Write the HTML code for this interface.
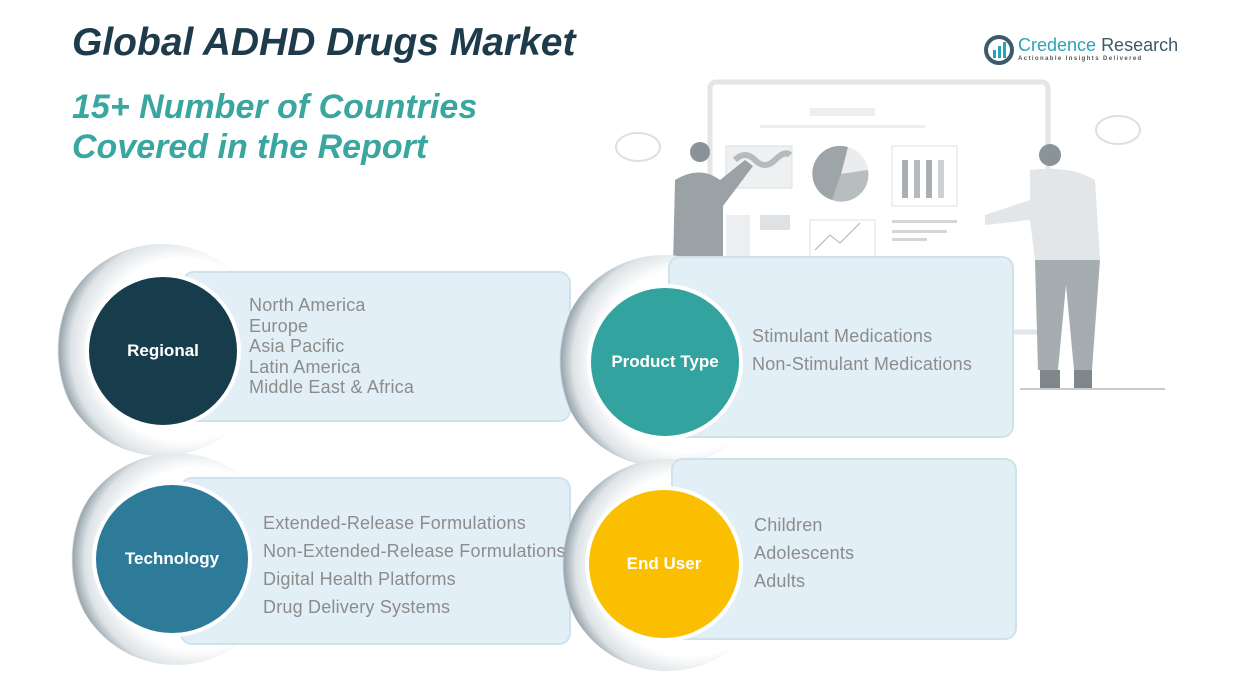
<!DOCTYPE html>
<html><head><meta charset="utf-8"><style>
body{margin:0;width:1242px;height:682px;background:#fff;position:relative;overflow:hidden;font-family:"Liberation Sans",sans-serif}
.a{position:absolute}
.t1{left:72px;top:21px;font-size:39px;font-weight:bold;font-style:italic;color:#1d3b4a}
.t2{left:72px;top:87px;font-size:34px;font-weight:bold;font-style:italic;color:#3aa6a0;line-height:40px}
.box{position:absolute;background:#e2eff6;border:2px solid #cfe2ec;border-radius:12px;box-sizing:border-box}
.halo{position:absolute;border-radius:50%;background:radial-gradient(circle at 60% 50%,#fff 55%,#dde3e6 68%,#9aa7ae 75%,rgba(255,255,255,0) 76%)}
.c{position:absolute;border-radius:50%;border:4px solid #fff;box-sizing:border-box;color:#fff;font-weight:bold;font-size:17px;display:flex;align-items:center;justify-content:center}
.tx{position:absolute;color:#8c8c8c;font-size:18px;letter-spacing:0.2px}
</style></head><body>
<div class="a t1">Global ADHD Drugs Market</div>
<div class="a t2">15+ Number of Countries<br>Covered in the Report</div>
<svg class="a" style="left:983px;top:34px" width="32" height="32"><circle cx="16" cy="16" r="13" fill="none" stroke="#3b5a6a" stroke-width="4"/><rect x="10" y="16" width="3" height="8" fill="#2aa3b8"/><rect x="15" y="12" width="3" height="12" fill="#2aa3b8"/><rect x="20" y="8" width="3" height="16" fill="#2aa3b8"/></svg>
<div class="a" style="left:1018px;top:35px;font-size:18px;color:#2aa3b8">Credence <span style="color:#3b5a6a">Research</span></div>
<div class="a" style="left:1018px;top:56px;font-size:6px;letter-spacing:1.4px;color:#555;font-weight:bold">Actionable Insights Delivered</div>
<svg class="a" style="left:600px;top:70px" width="600" height="330">
<rect x="110" y="12" width="338" height="250" rx="6" fill="#fff" stroke="#e3e6e8" stroke-width="5"/>
<rect x="210" y="38" width="65" height="8" fill="#eceeef"/><rect x="160" y="55" width="165" height="3" fill="#eceeef"/>
<rect x="126" y="76" width="66" height="42" fill="#eef0f1" stroke="#dde0e2"/>
<path d="M135 90 q10 -10 20 0 t20 0 t15 -5" stroke="#b5babd" stroke-width="6" fill="none"/>
<circle cx="241" cy="104" r="27" fill="#cdd1d3"/><path d="M241 104 L248 77 A27 27 0 0 1 268 100 Z" fill="#eaeced"/><path d="M241 104 L268 100 A27 27 0 0 1 232 130 Z" fill="#b8bdc0"/><path d="M241 104 L232 130 A27 27 0 0 1 248 77Z" fill="#9ea5a9"/>
<rect x="292" y="76" width="65" height="60" fill="#fff" stroke="#dde0e2"/>
<rect x="302" y="90" width="6" height="38" fill="#a9afb2"/><rect x="314" y="90" width="6" height="38" fill="#b5babd"/><rect x="326" y="90" width="6" height="38" fill="#a9afb2"/><rect x="338" y="90" width="6" height="38" fill="#cdd1d3"/>
<rect x="126" y="145" width="24" height="50" fill="#eceeef"/><rect x="160" y="145" width="30" height="15" fill="#dfe2e4"/>
<rect x="210" y="150" width="65" height="40" fill="#fff" stroke="#dde0e2"/><path d="M215 180 l15 -15 l10 8 l20 -20" stroke="#aab0b3" fill="none"/>
<rect x="292" y="150" width="65" height="3" fill="#d3d7d9"/><rect x="292" y="160" width="55" height="3" fill="#d3d7d9"/><rect x="292" y="168" width="35" height="3" fill="#d3d7d9"/>
<ellipse cx="38" cy="77" rx="22" ry="14" fill="#fff" stroke="#dde0e2" stroke-width="2"/><ellipse cx="518" cy="60" rx="22" ry="14" fill="#fff" stroke="#dde0e2" stroke-width="2"/>
<circle cx="100" cy="82" r="10" fill="#8a9398"/><path d="M75 110 q25 -15 45 0 l25 -20 l8 6 l-30 40 l0 60 l-50 0 z" fill="#9aa2a6"/>
<circle cx="450" cy="85" r="11" fill="#8a9398"/><path d="M430 100 q40 -5 65 10 l5 80 l-65 0 l-5 -40 l-45 5 l0 -10 l45 -15 z" fill="#e3e6e8"/>
<path d="M435 190 l65 0 l-8 110 l-18 0 l-8 -85 l-8 85 l-20 0 z" fill="#a6adb1"/>
<rect x="440" y="300" width="20" height="18" fill="#7f878b"/><rect x="474" y="300" width="18" height="18" fill="#7f878b"/>
<rect x="420" y="318" width="145" height="2" fill="#c7cbcd"/>
</svg>
<div class="halo" style="left:56px;top:244px;width:212px;height:212px"></div>
<div class="box" style="left:182px;top:271px;width:389px;height:151px"></div>
<div class="c" style="left:85px;top:273px;width:156px;height:156px;background:#173d4d">Regional</div>
<div class="tx" style="left:249px;top:295px;line-height:20.5px">North America<br>Europe<br>Asia Pacific<br>Latin America<br>Middle East &amp; Africa</div>
<div class="halo" style="left:558px;top:255px;width:212px;height:212px"></div>
<div class="box" style="left:668px;top:256px;width:346px;height:182px"></div>
<div class="c" style="left:587px;top:284px;width:156px;height:156px;background:#33a39f">Product Type</div>
<div class="tx" style="left:752px;top:322px;line-height:28px">Stimulant Medications<br>Non-Stimulant Medications</div>
<div class="halo" style="left:70px;top:453px;width:212px;height:212px"></div>
<div class="box" style="left:180px;top:477px;width:391px;height:168px"></div>
<div class="c" style="left:92px;top:481px;width:160px;height:156px;background:#2e7a99">Technology</div>
<div class="tx" style="left:263px;top:509px;line-height:28px">Extended-Release Formulations<br>Non-Extended-Release Formulations<br>Digital Health Platforms<br>Drug Delivery Systems</div>
<div class="halo" style="left:561px;top:459px;width:212px;height:212px"></div>
<div class="box" style="left:671px;top:458px;width:346px;height:182px"></div>
<div class="c" style="left:585px;top:486px;width:158px;height:156px;background:#f9bf00">End User</div>
<div class="tx" style="left:754px;top:511px;line-height:28px">Children<br>Adolescents<br>Adults</div>
</body></html>
